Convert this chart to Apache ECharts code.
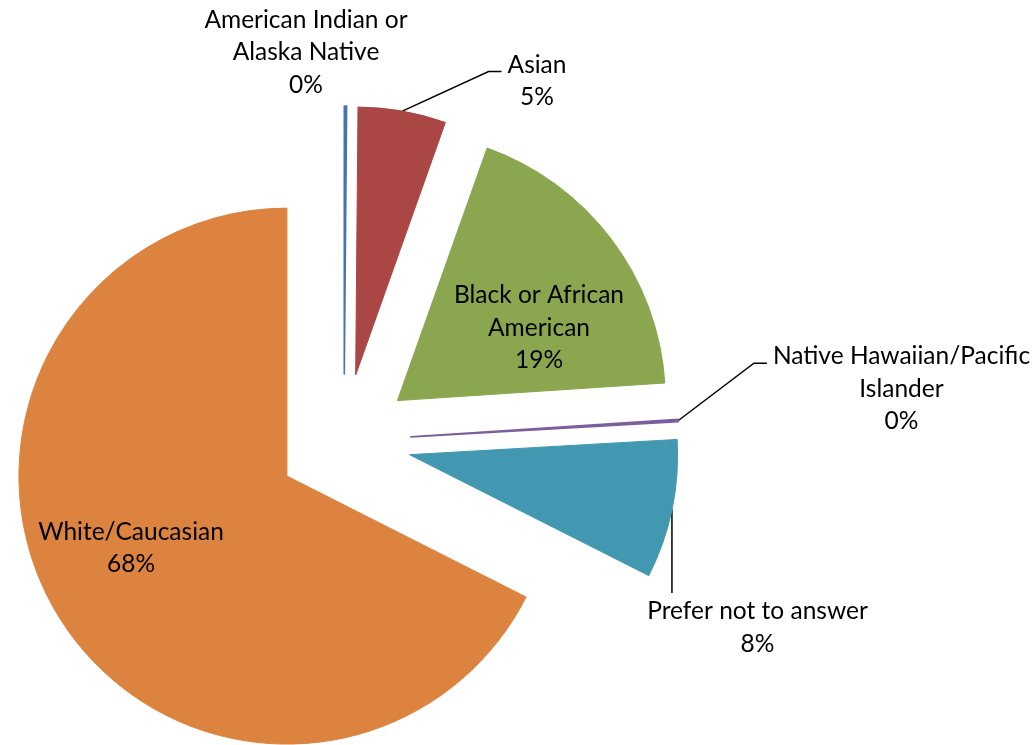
<!DOCTYPE html>
<html>
<head>
<meta charset="utf-8">
<script src="https://cdn.jsdelivr.net/npm/echarts@6/dist/echarts.min.js"></script>
<style>
html,body{margin:0;padding:0;background:#ffffff;}
#chart{width:1036px;height:745px;}
</style>
</head>
<body>
<div id="chart"></div>
<script>
// ---- data ----
const categories = [
  'American Indian or Alaska Native',
  'Asian',
  'Black or African American',
  'Native Hawaiian/Pacific Islander',
  'Prefer not to answer',
  'White/Caucasian'
];
const labelNames = [
  'American Indian or\nAlaska Native',
  'Asian',
  'Black or African\nAmerican',
  'Native Hawaiian/Pacific\nIslander',
  'Prefer not to answer',
  'White/Caucasian'
];
const values = [1, 38, 133, 1, 60, 485];

// ---- styles / layout ----
const colors = ['#4674B1', '#AA4744', '#8AA64F', '#7C5E9E', '#4298B0', '#DC843F'];
const PIE_CENTER = [344, 441];
const RADIUS = 268;
const EXPLODE = 67;
const FONT = 'Lato';
const FONT_SIZE = 24.5;
const LINE_H = 32.5;
// label block centre and leader-line style per slice
const labelSpots = [
  {x: 306, y: 52.5, pos: 'outside', line: 'none'},
  {x: 537, y: 81, pos: 'outside', line: 'left'},
  {x: 539, y: 328, pos: 'inside', line: 'none'},
  {x: 901.5, y: 389, pos: 'outside', line: 'left'},
  {x: 757.5, y: 627.5, pos: 'outside', line: 'top'},
  {x: 131, y: 548, pos: 'inside', line: 'none'}
];

const total = values.reduce((a, b) => a + b, 0);
let acc = 0;
const series = values.map((v, i) => {
  const mid = (acc + v / 2) / total * 2 * Math.PI;
  acc += v;
  const center = [PIE_CENTER[0] + EXPLODE * Math.sin(mid), PIE_CENTER[1] - EXPLODE * Math.cos(mid)];
  const spot = labelSpots[i];
  return {
    type: 'pie',
    center: center,
    radius: RADIUS,
    startAngle: 90,
    clockwise: true,
    avoidLabelOverlap: false,
    animation: false,
    silent: true,
    emphasis: {disabled: true},
    label: {
      color: '#000',
      fontFamily: FONT,
      fontSize: FONT_SIZE,
      lineHeight: LINE_H,
      align: 'center',
      formatter: p => labelNames[p.dataIndex] + '\n' + Math.round(p.percent) + '%'
    },
    labelLine: {lineStyle: {color: '#000', width: 1.5}, smooth: false},
    labelLayout: function (p) {
      const w = p.labelRect.width, h = p.labelRect.height;
      const left = spot.x - w / 2, top = spot.y - h / 2;
      const res = {x: spot.x, y: spot.y, align: 'center', verticalAlign: 'middle'};
      const p0 = p.labelLinePoints ? p.labelLinePoints[0] : null;
      if (p0 && spot.line === 'left') {
        const end = [left - 6, top + 23];
        res.labelLinePoints = [p0, [end[0] - 13, end[1]], end];
      } else if (p0 && spot.line === 'top') {
        const end = [p0[0], top - 2];
        res.labelLinePoints = [p0, [p0[0], (p0[1] + end[1]) / 2], end];
      }
      return res;
    },
    data: values.map((w, j) => ({
      name: categories[j],
      value: w,
      itemStyle: j === i
        ? {color: colors[j], borderColor: colors[j], borderWidth: w / total < 0.01 ? 1.6 : 1}
        : {color: 'rgba(0,0,0,0)', borderWidth: 0},
      label: {show: j === i, position: spot.pos},
      labelLine: {show: j === i && spot.line !== 'none'}
    }))
  };
});

const chart = echarts.init(document.getElementById('chart'), null, {renderer: 'canvas'});
chart.setOption({
  animation: false,
  backgroundColor: '#ffffff',
  series: series
});
</script>
</body>
</html>
